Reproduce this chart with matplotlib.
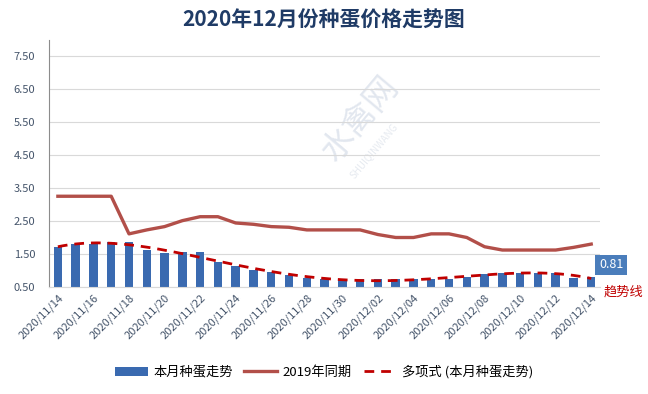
import numpy as np
import matplotlib.pyplot as plt

plt.rcParams['font.family'] = ['Noto Sans CJK SC', 'DejaVu Sans']

dates = ['2020/11/%02d' % d for d in range(14, 31)] + ['2020/12/%02d' % d for d in range(1, 15)]
price_2020 = [1.72, 1.80, 1.80, 1.85, 1.87, 1.63, 1.52, 1.56, 1.56, 1.26,
              1.14, 1.03, 0.95, 0.85, 0.77, 0.75, 0.73, 0.73, 0.73, 0.73,
              0.73, 0.75, 0.75, 0.81, 0.88, 0.91, 0.91, 0.91, 0.93, 0.78, 0.81]
price_2019 = [3.25, 3.25, 3.25, 3.25, 2.11, 2.23, 2.33, 2.51, 2.63, 2.63,
              2.44, 2.40, 2.33, 2.31, 2.23, 2.23, 2.23, 2.23, 2.09, 2.00,
              2.00, 2.11, 2.11, 2.00, 1.72, 1.62, 1.62, 1.62, 1.62, 1.70, 1.80]

x = np.arange(len(dates))
coef = np.polyfit(x, price_2020, 4)
xs = np.linspace(0, len(dates) - 1, 300)
trend = np.polyval(coef, xs)

fig = plt.figure(figsize=(6.48, 3.94), dpi=100)
ax = fig.add_axes([0.0756, 0.2716, 0.8505, 0.6281])

# watermark
ax.text(0.565, 0.68, '水禽网', transform=ax.transAxes, rotation=50, fontsize=24,
        color='#e2e7ef', ha='center', va='center', zorder=0)
ax.text(0.59, 0.55, 'SHUIQINWANG', transform=ax.transAxes, rotation=50, fontsize=7,
        color='#e6eaf0', ha='center', va='center', zorder=0)

bars = ax.bar(x, price_2020, width=0.48, bottom=0, color='#3A6AB0', label='本月种蛋走势', zorder=2)
line, = ax.plot(x, price_2019, color='#B24F49', lw=2.4, label='2019年同期', zorder=3)
tline, = ax.plot(xs, trend, color='#C00000', lw=2, ls=(0, (3.5, 2.5)), label='多项式 (本月种蛋走势)', zorder=4)

ax.set_xlim(-0.5, 30.5)
ax.set_ylim(0.5, 8.0)
ax.set_yticks(np.arange(0.5, 8.0, 1.0))
ax.set_yticklabels(['%.2f' % v for v in np.arange(0.5, 8.0, 1.0)])
ax.set_xticks(x[::2])
ax.set_xticklabels(dates[::2], rotation=45, ha='right', rotation_mode='anchor')
ax.tick_params(axis='both', length=0, labelsize=8, colors='#44546A')
ax.tick_params(axis='y', pad=10)
ax.tick_params(axis='x', pad=4)
ax.grid(axis='y', color='#D9D9D9', lw=0.8, zorder=0)
ax.set_axisbelow(True)
for s in ['top', 'right']:
    ax.spines[s].set_visible(False)
ax.spines['left'].set_color('#8C8C8C')
ax.spines['bottom'].set_color('#D9D9D9')

ax.annotate('%.2f' % price_2020[-1], xy=(x[-1], price_2020[-1]), xytext=(14.5, 8.5),
            textcoords='offset points', ha='center', va='center', color='white', fontsize=9,
            bbox=dict(boxstyle='square,pad=0.3', fc='#4A7DBB', ec='none'), zorder=5)

fig.text(604 / 648, 1 - 292 / 394, '趋势线', color='#C00000', fontsize=9.5, va='center', ha='left')

fig.suptitle('2020年12月份种蛋价格走势图', x=0.5, y=1 - 20 / 394, va='center',
             fontsize=15, fontweight='bold', color='#1F3B66')

fig.legend(handles=[bars, line, tline], loc='center', bbox_to_anchor=(0.5, 1 - 372 / 394), ncol=3,
           frameon=False, fontsize=9.5, handlelength=2.5, handletextpad=0.4, columnspacing=0.9)

fig.savefig('out.png', dpi=100)
